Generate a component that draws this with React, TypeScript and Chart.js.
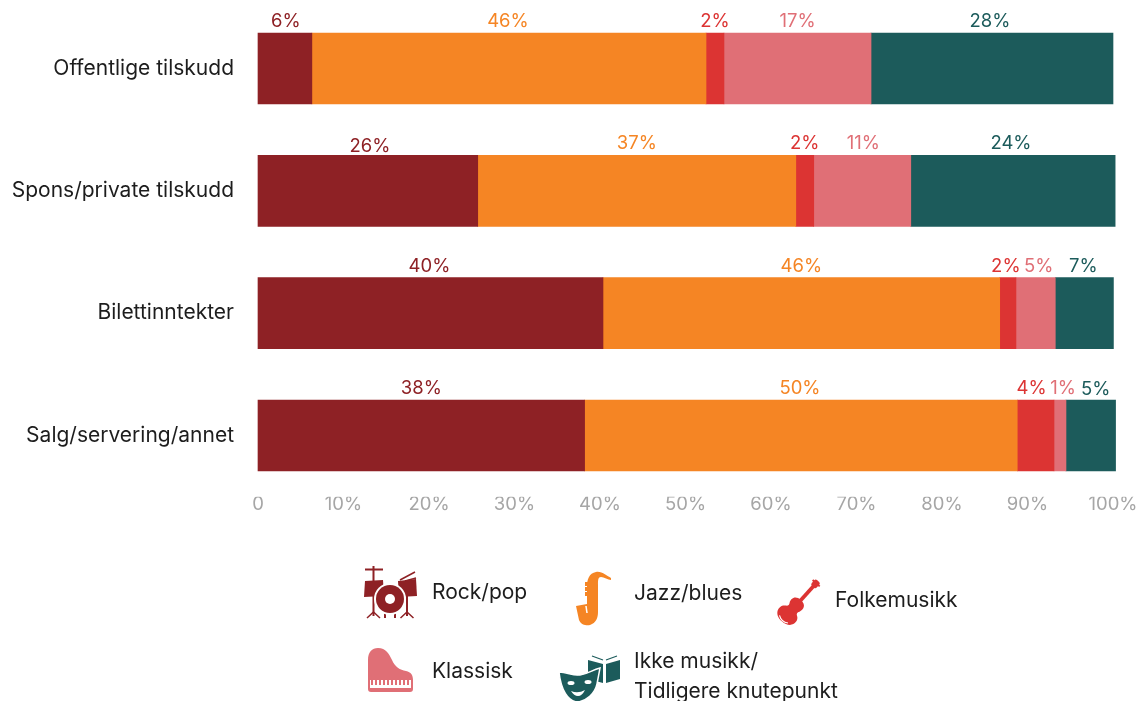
import React, { useEffect, useRef } from "react";
import { Chart, registerables } from "chart.js";

Chart.register(...registerables);

const categories = ["Offentlige tilskudd", "Spons/private tilskudd", "Bilettinntekter", "Salg/servering/annet"];
const rockPop = [6.3, 25.7, 40.35, 38.2];
const jazzBlues = [46.1, 37.2, 46.4, 50.6];
const folkemusikk = [2.1, 2.1, 1.9, 4.3];
const klassisk = [17.2, 11.35, 4.6, 1.4];
const ikkeMusikk = [28.3, 23.9, 6.8, 5.8];

const rockPopLabels = ["6%", "26%", "40%", "38%"];
const jazzBluesLabels = ["46%", "37%", "46%", "50%"];
const folkemusikkLabels = ["2%", "2%", "2%", "4%"];
const klassiskLabels = ["17%", "11%", "5%", "1%"];
const ikkeMusikkLabels = ["28%", "24%", "7%", "5%"];

const seriesNames = ["Rock/pop", "Jazz/blues", "Folkemusikk", "Klassisk", "Ikke musikk/", "Tidligere knutepunkt"];
const tickLabels = ["0", "10%", "20%", "30%", "40%", "50%", "60%", "70%", "80%", "90%", "100%"];

const DARK = "#8e2125";
const ORANGE = "#f58524";
const RED = "#dc3433";
const PINK = "#e06f76";
const TEAL = "#1c5b5b";
const FONT = "Inter, 'Noto Sans', sans-serif";

const series = [
  { label: seriesNames[0], data: rockPop, texts: rockPopLabels, color: DARK },
  { label: seriesNames[1], data: jazzBlues, texts: jazzBluesLabels, color: ORANGE },
  { label: seriesNames[2], data: folkemusikk, texts: folkemusikkLabels, color: RED },
  { label: seriesNames[3], data: klassisk, texts: klassiskLabels, color: PINK },
  { label: seriesNames[4] + " " + seriesNames[5], data: ikkeMusikk, texts: ikkeMusikkLabels, color: TEAL },
];

// Hand placement of the value labels, relative to the centre of their segment: [series][row] -> [dx, dy]
const labelShift: number[][][] = [
  [[1, 0], [2, 3], [-1, 0], [0, 0]],
  [[-1, 0], [0, 0], [0, 0], [-1, 0]],
  [[0, 0], [0, 0], [-2, 0], [-4, 0]],
  [[0, 0], [1, 0], [3, 0], [3, 0]],
  [[-2, 0], [-2, 0], [-1, 0], [5, 1]],
];

const barLabels = {
  id: "barLabels",
  afterDatasetsDraw(chart: any) {
    const { ctx } = chart;
    ctx.save();
    ctx.font = `400 18.5px ${FONT}`;
    ctx.textAlign = "center";
    ctx.textBaseline = "alphabetic";
    chart.data.datasets.forEach((ds: any, i: number) => {
      chart.getDatasetMeta(i).data.forEach((bar: any, j: number) => {
        const cx = (bar.x + bar.base) / 2;
        const top = bar.y - bar.height / 2;
        const [dx, dy] = labelShift[i][j];
        ctx.fillStyle = ds.backgroundColor;
        ctx.fillText(ds.texts[j], cx + dx, top - 6 + dy);
      });
    });
    ctx.restore();
  },
};

function Icons() {
  return (
    <svg width={1142} height={701} style={{ position: "absolute", left: 0, top: 0 }}>
      <g fill={DARK} stroke="none">
        <path d="M365 569.5H383" stroke={DARK} strokeWidth={2} />
        <path d="M373.5 566V582M373.5 596V616M407 596V616M385 608V618M395 608V618" stroke={DARK} strokeWidth={2} />
        <path d="M367 618L373.5 612L380 618M400.5 618L407 612L413.5 618" stroke={DARK} strokeWidth={1.5} fill="none" />
        <path d="M365 581L383 580L384 596L364 597Z" />
        <path d="M398 581L416 579L417 596L399 597Z" />
        <path d="M400 580L415 572M405 581L416 578" stroke={DARK} strokeWidth={1.5} />
        <circle cx={390} cy={599} r={16} fill="#fff" />
        <circle cx={390} cy={599} r={14} />
        <circle cx={390} cy={599} r={5} fill="#fff" />
      </g>
      <g fill={ORANGE}>
        <path d="M611 578C607 576 602 571 596 572C589 573 587 580 587 586L587 604L576 606L579 620C581 625 587 626 590 625C596 623 598 618 598 612L598 585C598 580 598 577 601 577C604 577 608 580 611 580Z" />
        <path d="M588 582H585V586H588ZM588 587H585V591H588ZM588 592H585V596H588Z" />
        <path d="M586 606L587 613" stroke="#fff" strokeWidth={1.5} fill="none" />
      </g>
      <g fill={RED} transform="translate(792 610) rotate(42) scale(0.95)">
        <path d="M0 -14C8 -14 9 -8 7 -4C5.5 -2 6 0 8 1C14 4 13 16 0 16C-13 16 -14 4 -8 1C-6 0 -5.5 -2 -7 -4C-9 -8 -8 -14 0 -14Z" />
        <rect x={-2} y={-34} width={4} height={22} />
        <rect x={-3.5} y={-41} width={7} height={8} rx={2} />
        <path d="M-5 -38H5" stroke={RED} strokeWidth={2} />
        <path d="M-6 13Q0 17 6 13" stroke="#fff" strokeWidth={1.2} fill="none" />
      </g>
      <g>
        <path d="M368 660C368 652 372 648 378 648C386 648 389 654 392 660C395 667 400 670 406 671C411 672 413 675 413 680L413 689Q413 692 410 692L371 692Q368 692 368 689Z" fill={PINK} />
        <rect x={370} y={680} width={41} height={8} fill="#fff" />
        <path d="M372 680V685M376 680V685M380 680V685M384 680V685M388 680V685M392 680V685M396 680V685M400 680V685M404 680V685M408 680V685" stroke={PINK} strokeWidth={2} />
      </g>
      <g fill={TEAL}>
        <path d="M588 660L603 664V683L588 679Z" />
        <path d="M606 664L620 660V679L606 683Z" />
        <path d="M592 656L603 660M617 656L606 660" stroke={TEAL} strokeWidth={1.2} />
        <path d="M559 672C568 672 572 676 580 675C588 674 592 670 600 668L597 684C595 694 586 701 578 702C568 702 561 690 559 672Z" stroke="#fff" strokeWidth={1.5} />
        <ellipse cx={571} cy={683} rx={3.5} ry={2} fill="#fff" />
        <ellipse cx={588} cy={682} rx={3.5} ry={2} fill="#fff" />
        <path d="M571 691Q578 694 585 690Q582 696 578 696Q574 696 571 691Z" fill="#fff" />
      </g>
    </svg>
  );
}

const legendText: React.CSSProperties = {
  position: "absolute",
  font: `400 21px ${FONT}`,
  color: "#1d1d1d",
  whiteSpace: "nowrap",
  lineHeight: "24px",
};

export default function App() {
  const ref = useRef<HTMLCanvasElement>(null);
  useEffect(() => {
    const chart = new Chart(ref.current!, {
      type: "bar",
      data: {
        labels: categories,
        datasets: series.map((s) => ({
          label: s.label,
          data: s.data,
          texts: s.texts,
          backgroundColor: s.color,
          barThickness: 71,
          borderWidth: 0,
          clip: false,
        })) as any,
      },
      options: {
        indexAxis: "y",
        animation: false,
        responsive: false,
        layout: { padding: { left: 0, right: 29, top: 7.3, bottom: 164.3 } },
        plugins: { legend: { display: false }, tooltip: { enabled: false } },
        scales: {
          x: {
            stacked: true,
            min: 0,
            max: 100,
            grid: { display: false, drawTicks: false },
            border: { display: false },
            afterFit: (s: any) => { s.height = 40; },
            ticks: {
              stepSize: 10,
              autoSkip: false,
              maxRotation: 0,
              padding: -2,
              color: "#a6a6a6",
              font: { family: FONT, size: 18.5, lineHeight: 1 },
              callback: (_v: any, i: number) => tickLabels[i],
            },
          },
          y: {
            stacked: true,
            grid: { display: false, drawTicks: false },
            border: { display: false },
            afterFit: (s: any) => { s.width = 258; s.paddingTop = 0; s.paddingBottom = 0; },
            ticks: {
              padding: 24,
              color: "#1d1d1d",
              font: { family: FONT, size: 21 },
            },
          },
        },
      },
      plugins: [barLabels],
    } as any);
    return () => chart.destroy();
  }, []);
  return (
    <div style={{ position: "fixed", left: 0, top: 0, width: 1142, height: 701, overflow: "hidden", background: "#fff" }}>
      <canvas ref={ref} width={1142} height={701} style={{ position: "absolute", left: 0, top: 0 }} />
      <Icons />
      <div style={{ ...legendText, left: 432, top: 580 }}>{seriesNames[0]}</div>
      <div style={{ ...legendText, left: 634, top: 581 }}>{seriesNames[1]}</div>
      <div style={{ ...legendText, left: 835, top: 588 }}>{seriesNames[2]}</div>
      <div style={{ ...legendText, left: 432, top: 659 }}>{seriesNames[3]}</div>
      <div style={{ ...legendText, left: 634, top: 649 }}>{seriesNames[4]}</div>
      <div style={{ ...legendText, left: 634, top: 679 }}>{seriesNames[5]}</div>
    </div>
  );
}
